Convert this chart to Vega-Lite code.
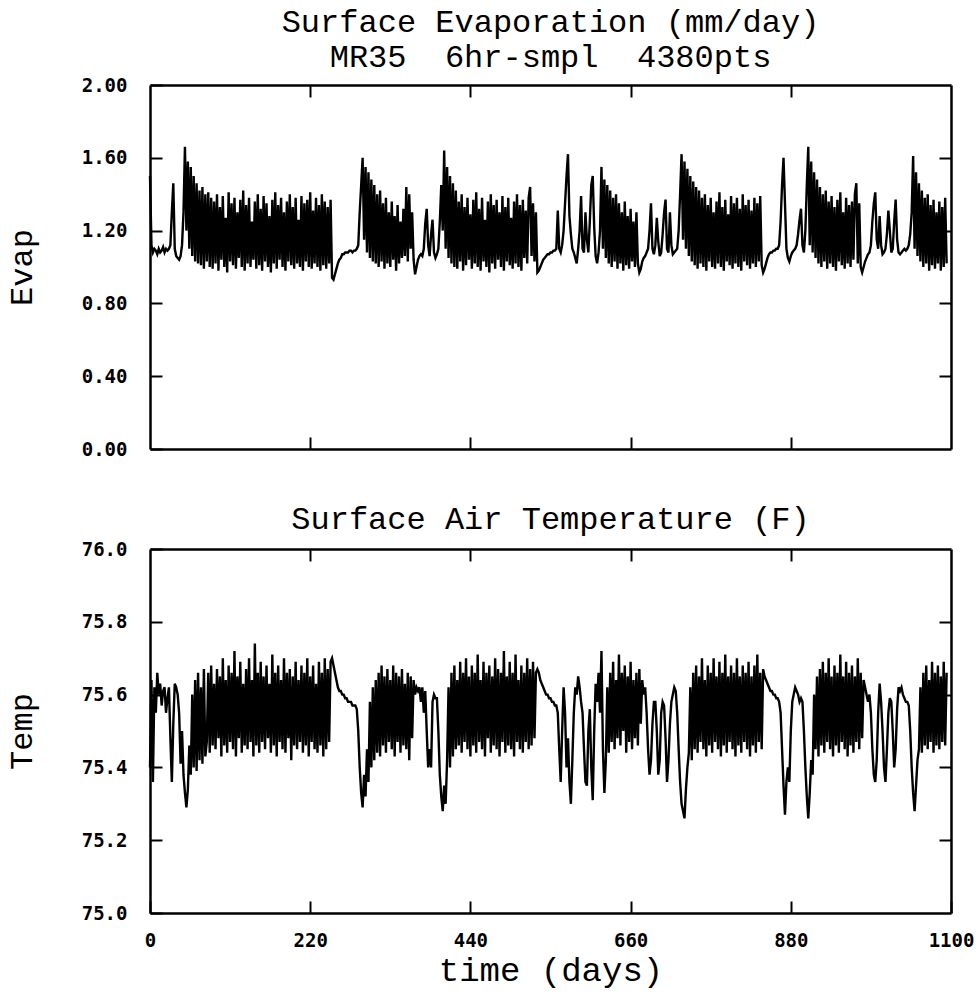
{
"$schema": "https://vega.github.io/schema/vega-lite/v6.json",
"background": "white",
"padding": {"left": 5, "top": 6, "right": 10, "bottom": 2},
"config": {
  "view": {"stroke": null},
  "axis": {"domainColor": "black", "domainWidth": 2.5, "tickColor": "black", "tickWidth": 2, "tickSize": -12, "labelFont": "DejaVu Sans Mono", "labelFontWeight": "bold", "labelFontSize": 19, "labelColor": "black", "labelPadding": 35, "titleFont": "Liberation Mono", "titleFontSize": 32, "titleFontWeight": "normal", "titleColor": "black", "grid": false, "labelFlush": false},
  "title": {"font": "Liberation Mono", "fontSize": 32, "fontWeight": "normal", "color": "black", "anchor": "middle"}
},
"data": {"values": [
{"t":0,"evap":1.50,"temp":75.40},{"t":2,"evap":1.12,"temp":75.64},{"t":4,"evap":1.08,"temp":75.36},{"t":6,"evap":1.10,"temp":75.62},{"t":8,"evap":1.09,"temp":75.55},{"t":10,"evap":1.07,"temp":75.66},{"t":12,"evap":1.10,"temp":75.60},{"t":14,"evap":1.08,"temp":75.63},{"t":16,"evap":1.09,"temp":75.57},{"t":18,"evap":1.11,"temp":75.61},{"t":20,"evap":1.08,"temp":75.62},{"t":22,"evap":1.10,"temp":75.55},{"t":24,"evap":1.09,"temp":75.59},{"t":26,"evap":1.10,"temp":75.62},{"t":28,"evap":1.12,"temp":75.48},{"t":30,"evap":1.30,"temp":75.36},{"t":32,"evap":1.46,"temp":75.52},{"t":34,"evap":1.10,"temp":75.63},{"t":36,"evap":1.06,"temp":75.62},{"t":38,"evap":1.05,"temp":75.60},{"t":40,"evap":1.04,"temp":75.55},{"t":42,"evap":1.06,"temp":75.41},{"t":44,"evap":1.12,"temp":75.50},{"t":46,"evap":1.30,"temp":75.38},{"t":48,"evap":1.66,"temp":75.33},{"t":50,"evap":1.20,"temp":75.29},{"t":52,"evap":1.58,"temp":75.34},{"t":54,"evap":1.10,"temp":75.46},{"t":56,"evap":1.55,"temp":75.38},{"t":58,"evap":1.06,"temp":75.60},{"t":60,"evap":1.50,"temp":75.40},{"t":62,"evap":1.03,"temp":75.64},{"t":64,"evap":1.46,"temp":75.39},{"t":66,"evap":1.02,"temp":75.66},{"t":68,"evap":1.42,"temp":75.42},{"t":70,"evap":1.01,"temp":75.62},{"t":72,"evap":1.44,"temp":75.41},{"t":74,"evap":0.99,"temp":75.67},{"t":76,"evap":1.40,"temp":75.43},{"t":78,"evap":1.03,"temp":75.47},
{"t":80,"evap":1.41,"temp":75.66},{"t":82,"evap":1.00,"temp":75.44},{"t":84,"evap":1.38,"temp":75.68},{"t":86,"evap":0.99,"temp":75.46},{"t":88,"evap":1.36,"temp":75.63},{"t":90,"evap":1.02,"temp":75.45},{"t":92,"evap":1.40,"temp":75.67},{"t":94,"evap":0.98,"temp":75.48},{"t":96,"evap":1.33,"temp":75.65},{"t":98,"evap":1.04,"temp":75.43},{"t":100,"evap":1.39,"temp":75.70},{"t":102,"evap":1.00,"temp":75.46},{"t":104,"evap":1.27,"temp":75.64},{"t":106,"evap":0.97,"temp":75.44},{"t":108,"evap":1.41,"temp":75.68},{"t":110,"evap":1.03,"temp":75.47},{"t":112,"evap":1.35,"temp":75.66},{"t":114,"evap":1.01,"temp":75.45},{"t":116,"evap":1.38,"temp":75.72},{"t":118,"evap":0.99,"temp":75.43},{"t":120,"evap":1.30,"temp":75.65},{"t":122,"evap":1.05,"temp":75.48},{"t":124,"evap":1.37,"temp":75.69},{"t":126,"evap":1.00,"temp":75.44},{"t":128,"evap":1.42,"temp":75.63},{"t":130,"evap":0.98,"temp":75.46},{"t":132,"evap":1.34,"temp":75.67},{"t":134,"evap":1.02,"temp":75.45},{"t":136,"evap":1.38,"temp":75.70},{"t":138,"evap":1.00,"temp":75.47},{"t":140,"evap":1.25,"temp":75.64},{"t":142,"evap":1.04,"temp":75.43},{"t":144,"evap":1.36,"temp":75.74},{"t":146,"evap":0.99,"temp":75.46},{"t":148,"evap":1.40,"temp":75.66},{"t":150,"evap":1.01,"temp":75.44},{"t":152,"evap":1.32,"temp":75.69},{"t":154,"evap":0.98,"temp":75.47},{"t":156,"evap":1.39,"temp":75.65},{"t":158,"evap":1.03,"temp":75.45},
{"t":160,"evap":1.35,"temp":75.68},{"t":162,"evap":1.00,"temp":75.48},{"t":164,"evap":1.28,"temp":75.63},{"t":166,"evap":0.97,"temp":75.44},{"t":168,"evap":1.37,"temp":75.71},{"t":170,"evap":1.02,"temp":75.46},{"t":172,"evap":1.41,"temp":75.66},{"t":174,"evap":0.99,"temp":75.43},{"t":176,"evap":1.34,"temp":75.68},{"t":178,"evap":1.04,"temp":75.47},{"t":180,"evap":1.38,"temp":75.64},{"t":182,"evap":1.00,"temp":75.45},{"t":184,"evap":1.30,"temp":75.70},{"t":186,"evap":0.98,"temp":75.44},{"t":188,"evap":1.36,"temp":75.66},{"t":190,"evap":1.03,"temp":75.48},{"t":192,"evap":1.40,"temp":75.67},{"t":194,"evap":1.01,"temp":75.42},{"t":196,"evap":1.33,"temp":75.65},{"t":198,"evap":0.99,"temp":75.46},{"t":200,"evap":1.38,"temp":75.69},{"t":202,"evap":1.02,"temp":75.45},{"t":204,"evap":1.26,"temp":75.64},{"t":206,"evap":1.00,"temp":75.47},{"t":208,"evap":1.39,"temp":75.68},{"t":210,"evap":0.98,"temp":75.44},{"t":212,"evap":1.35,"temp":75.66},{"t":214,"evap":1.03,"temp":75.46},{"t":216,"evap":1.37,"temp":75.70},{"t":218,"evap":1.00,"temp":75.43},{"t":220,"evap":1.41,"temp":75.65},{"t":222,"evap":0.99,"temp":75.47},{"t":224,"evap":1.31,"temp":75.68},{"t":226,"evap":1.02,"temp":75.45},{"t":228,"evap":1.38,"temp":75.63},{"t":230,"evap":1.00,"temp":75.44},{"t":232,"evap":1.34,"temp":75.69},{"t":234,"evap":0.98,"temp":75.46},{"t":236,"evap":1.40,"temp":75.66},{"t":238,"evap":1.01,"temp":75.43},
{"t":240,"evap":1.36,"temp":75.70},{"t":242,"evap":0.99,"temp":75.45},{"t":244,"evap":1.33,"temp":75.67},{"t":246,"evap":1.02,"temp":75.47},{"t":248,"evap":1.37,"temp":75.69},{"t":250,"evap":0.94,"temp":75.70},{"t":252,"evap":0.93,"temp":75.68},{"t":254,"evap":0.96,"temp":75.66},{"t":256,"evap":0.99,"temp":75.64},{"t":258,"evap":1.02,"temp":75.62},{"t":260,"evap":1.04,"temp":75.61},{"t":262,"evap":1.05,"temp":75.61},{"t":264,"evap":1.07,"temp":75.60},{"t":266,"evap":1.07,"temp":75.60},{"t":268,"evap":1.08,"temp":75.59},{"t":270,"evap":1.08,"temp":75.59},{"t":272,"evap":1.08,"temp":75.58},{"t":274,"evap":1.09,"temp":75.58},{"t":276,"evap":1.09,"temp":75.58},{"t":278,"evap":1.08,"temp":75.57},{"t":280,"evap":1.09,"temp":75.57},{"t":282,"evap":1.09,"temp":75.57},{"t":284,"evap":1.10,"temp":75.56},{"t":286,"evap":1.12,"temp":75.50},{"t":288,"evap":1.30,"temp":75.40},{"t":290,"evap":1.45,"temp":75.33},{"t":292,"evap":1.60,"temp":75.29},{"t":294,"evap":1.15,"temp":75.38},{"t":296,"evap":1.55,"temp":75.32},{"t":298,"evap":1.08,"temp":75.45},{"t":300,"evap":1.52,"temp":75.36},{"t":302,"evap":1.05,"temp":75.58},{"t":304,"evap":1.48,"temp":75.40},{"t":306,"evap":1.03,"temp":75.62},{"t":308,"evap":1.45,"temp":75.42},{"t":310,"evap":1.02,"temp":75.64},{"t":312,"evap":1.40,"temp":75.44},{"t":314,"evap":1.00,"temp":75.66},{"t":316,"evap":1.42,"temp":75.43},{"t":318,"evap":1.03,"temp":75.68},
{"t":320,"evap":1.35,"temp":75.46},{"t":322,"evap":0.99,"temp":75.65},{"t":324,"evap":1.38,"temp":75.44},{"t":326,"evap":1.02,"temp":75.67},{"t":328,"evap":1.30,"temp":75.47},{"t":330,"evap":1.00,"temp":75.64},{"t":332,"evap":1.36,"temp":75.45},{"t":334,"evap":1.04,"temp":75.68},{"t":336,"evap":1.28,"temp":75.43},{"t":338,"evap":0.98,"temp":75.66},{"t":340,"evap":1.34,"temp":75.47},{"t":342,"evap":1.02,"temp":75.65},{"t":344,"evap":1.25,"temp":75.44},{"t":346,"evap":1.05,"temp":75.67},{"t":348,"evap":1.32,"temp":75.46},{"t":350,"evap":1.06,"temp":75.63},{"t":352,"evap":1.44,"temp":75.45},{"t":354,"evap":1.03,"temp":75.66},{"t":356,"evap":1.40,"temp":75.42},{"t":358,"evap":1.10,"temp":75.65},{"t":360,"evap":1.30,"temp":75.48},{"t":362,"evap":1.04,"temp":75.64},{"t":364,"evap":0.96,"temp":75.60},{"t":366,"evap":1.00,"temp":75.62},{"t":368,"evap":1.04,"temp":75.61},{"t":370,"evap":1.06,"temp":75.62},{"t":372,"evap":1.07,"temp":75.58},{"t":374,"evap":1.06,"temp":75.62},{"t":376,"evap":1.10,"temp":75.55},{"t":378,"evap":1.24,"temp":75.61},{"t":380,"evap":1.32,"temp":75.50},{"t":382,"evap":1.12,"temp":75.40},{"t":384,"evap":1.06,"temp":75.45},{"t":386,"evap":1.18,"temp":75.40},{"t":388,"evap":1.26,"temp":75.58},{"t":390,"evap":1.08,"temp":75.60},{"t":392,"evap":1.05,"temp":75.59},{"t":394,"evap":1.07,"temp":75.59},{"t":396,"evap":1.10,"temp":75.50},{"t":398,"evap":1.25,"temp":75.38},
{"t":400,"evap":1.45,"temp":75.32},{"t":402,"evap":1.20,"temp":75.28},{"t":404,"evap":1.64,"temp":75.35},{"t":406,"evap":1.10,"temp":75.30},{"t":408,"evap":1.55,"temp":75.42},{"t":410,"evap":1.05,"temp":75.62},{"t":412,"evap":1.50,"temp":75.40},{"t":414,"evap":1.02,"temp":75.66},{"t":416,"evap":1.46,"temp":75.43},{"t":418,"evap":1.00,"temp":75.68},{"t":420,"evap":1.42,"temp":75.45},{"t":422,"evap":0.99,"temp":75.64},{"t":424,"evap":1.36,"temp":75.46},{"t":426,"evap":1.03,"temp":75.69},{"t":428,"evap":1.40,"temp":75.44},{"t":430,"evap":0.98,"temp":75.66},{"t":432,"evap":1.33,"temp":75.47},{"t":434,"evap":1.01,"temp":75.70},{"t":436,"evap":1.38,"temp":75.45},{"t":438,"evap":1.04,"temp":75.65},{"t":440,"evap":1.29,"temp":75.43},{"t":442,"evap":0.99,"temp":75.68},{"t":444,"evap":1.37,"temp":75.46},{"t":446,"evap":1.02,"temp":75.66},{"t":448,"evap":1.41,"temp":75.44},{"t":450,"evap":1.00,"temp":75.71},{"t":452,"evap":1.32,"temp":75.47},{"t":454,"evap":0.98,"temp":75.64},{"t":456,"evap":1.38,"temp":75.45},{"t":458,"evap":1.03,"temp":75.69},{"t":460,"evap":1.26,"temp":75.43},{"t":462,"evap":1.00,"temp":75.66},{"t":464,"evap":1.36,"temp":75.48},{"t":466,"evap":0.97,"temp":75.68},{"t":468,"evap":1.40,"temp":75.44},{"t":470,"evap":1.02,"temp":75.65},{"t":472,"evap":1.34,"temp":75.46},{"t":474,"evap":0.99,"temp":75.70},{"t":476,"evap":1.37,"temp":75.45},{"t":478,"evap":1.04,"temp":75.67},
{"t":480,"evap":1.30,"temp":75.43},{"t":482,"evap":1.00,"temp":75.66},{"t":484,"evap":1.39,"temp":75.47},{"t":486,"evap":0.98,"temp":75.72},{"t":488,"evap":1.33,"temp":75.44},{"t":490,"evap":1.03,"temp":75.65},{"t":492,"evap":1.38,"temp":75.46},{"t":494,"evap":1.01,"temp":75.69},{"t":496,"evap":1.27,"temp":75.45},{"t":498,"evap":0.99,"temp":75.66},{"t":500,"evap":1.36,"temp":75.43},{"t":502,"evap":1.02,"temp":75.71},{"t":504,"evap":1.40,"temp":75.47},{"t":506,"evap":1.00,"temp":75.64},{"t":508,"evap":1.34,"temp":75.45},{"t":510,"evap":0.98,"temp":75.68},{"t":512,"evap":1.37,"temp":75.44},{"t":514,"evap":1.05,"temp":75.66},{"t":516,"evap":1.31,"temp":75.47},{"t":518,"evap":1.02,"temp":75.70},{"t":520,"evap":1.38,"temp":75.45},{"t":522,"evap":1.44,"temp":75.67},{"t":524,"evap":1.06,"temp":75.46},{"t":526,"evap":1.35,"temp":75.69},{"t":528,"evap":1.03,"temp":75.48},{"t":530,"evap":1.30,"temp":75.66},{"t":532,"evap":0.97,"temp":75.67},{"t":534,"evap":0.98,"temp":75.66},{"t":536,"evap":1.00,"temp":75.64},{"t":538,"evap":1.02,"temp":75.63},{"t":540,"evap":1.04,"temp":75.62},{"t":542,"evap":1.05,"temp":75.61},{"t":544,"evap":1.06,"temp":75.60},{"t":546,"evap":1.07,"temp":75.60},{"t":548,"evap":1.07,"temp":75.59},{"t":550,"evap":1.08,"temp":75.59},{"t":552,"evap":1.08,"temp":75.58},{"t":554,"evap":1.09,"temp":75.58},{"t":556,"evap":1.09,"temp":75.57},{"t":558,"evap":1.10,"temp":75.57},
{"t":560,"evap":1.31,"temp":75.55},{"t":562,"evap":1.10,"temp":75.45},{"t":564,"evap":1.08,"temp":75.36},{"t":566,"evap":1.12,"temp":75.50},{"t":568,"evap":1.20,"temp":75.62},{"t":570,"evap":1.35,"temp":75.55},{"t":572,"evap":1.50,"temp":75.40},{"t":574,"evap":1.62,"temp":75.48},{"t":576,"evap":1.28,"temp":75.36},{"t":578,"evap":1.18,"temp":75.30},{"t":580,"evap":1.10,"temp":75.42},{"t":582,"evap":1.08,"temp":75.55},{"t":584,"evap":1.05,"temp":75.62},{"t":586,"evap":1.02,"temp":75.60},{"t":588,"evap":1.10,"temp":75.65},{"t":590,"evap":1.20,"temp":75.62},{"t":592,"evap":1.39,"temp":75.58},{"t":594,"evap":1.10,"temp":75.55},{"t":596,"evap":1.08,"temp":75.45},{"t":598,"evap":1.30,"temp":75.36},{"t":600,"evap":1.15,"temp":75.35},{"t":602,"evap":1.08,"temp":75.50},{"t":604,"evap":1.25,"temp":75.56},{"t":606,"evap":1.45,"temp":75.40},{"t":608,"evap":1.50,"temp":75.31},{"t":610,"evap":1.22,"temp":75.50},{"t":612,"evap":1.06,"temp":75.63},{"t":614,"evap":1.02,"temp":75.58},{"t":616,"evap":1.08,"temp":75.66},{"t":618,"evap":1.20,"temp":75.55},{"t":620,"evap":1.55,"temp":75.72},{"t":622,"evap":1.10,"temp":75.45},{"t":624,"evap":1.48,"temp":75.33},{"t":626,"evap":1.05,"temp":75.42},{"t":628,"evap":1.45,"temp":75.62},{"t":630,"evap":1.02,"temp":75.44},{"t":632,"evap":1.42,"temp":75.66},{"t":634,"evap":1.00,"temp":75.47},{"t":636,"evap":1.38,"temp":75.69},{"t":638,"evap":1.03,"temp":75.45},
{"t":640,"evap":1.40,"temp":75.64},{"t":642,"evap":0.99,"temp":75.48},{"t":644,"evap":1.35,"temp":75.71},{"t":646,"evap":1.02,"temp":75.46},{"t":648,"evap":1.30,"temp":75.66},{"t":650,"evap":0.98,"temp":75.50},{"t":652,"evap":1.36,"temp":75.68},{"t":654,"evap":1.01,"temp":75.44},{"t":656,"evap":1.28,"temp":75.65},{"t":658,"evap":0.99,"temp":75.47},{"t":660,"evap":1.32,"temp":75.69},{"t":662,"evap":1.03,"temp":75.45},{"t":664,"evap":1.25,"temp":75.64},{"t":666,"evap":1.00,"temp":75.48},{"t":668,"evap":1.30,"temp":75.66},{"t":670,"evap":1.02,"temp":75.46},{"t":672,"evap":0.97,"temp":75.67},{"t":674,"evap":0.99,"temp":75.52},{"t":676,"evap":1.03,"temp":75.64},{"t":678,"evap":1.05,"temp":75.60},{"t":680,"evap":1.06,"temp":75.62},{"t":682,"evap":1.08,"temp":75.55},{"t":684,"evap":1.10,"temp":75.45},{"t":686,"evap":1.20,"temp":75.38},{"t":688,"evap":1.35,"temp":75.42},{"t":690,"evap":1.10,"temp":75.52},{"t":692,"evap":1.07,"temp":75.58},{"t":694,"evap":1.12,"temp":75.58},{"t":696,"evap":1.27,"temp":75.50},{"t":698,"evap":1.14,"temp":75.38},{"t":700,"evap":1.06,"temp":75.42},{"t":702,"evap":1.08,"temp":75.55},{"t":704,"evap":1.18,"temp":75.58},{"t":706,"evap":1.30,"temp":75.57},{"t":708,"evap":1.37,"temp":75.48},{"t":710,"evap":1.10,"temp":75.36},{"t":712,"evap":1.08,"temp":75.42},{"t":714,"evap":1.30,"temp":75.52},{"t":716,"evap":1.12,"temp":75.58},{"t":718,"evap":1.07,"temp":75.60},
{"t":720,"evap":1.08,"temp":75.62},{"t":722,"evap":1.09,"temp":75.61},{"t":724,"evap":1.10,"temp":75.55},{"t":726,"evap":1.20,"temp":75.45},{"t":728,"evap":1.40,"temp":75.36},{"t":730,"evap":1.62,"temp":75.30},{"t":732,"evap":1.15,"temp":75.28},{"t":734,"evap":1.58,"temp":75.26},{"t":736,"evap":1.10,"temp":75.34},{"t":738,"evap":1.54,"temp":75.40},{"t":740,"evap":1.06,"temp":75.44},{"t":742,"evap":1.50,"temp":75.62},{"t":744,"evap":1.03,"temp":75.42},{"t":746,"evap":1.47,"temp":75.66},{"t":748,"evap":1.01,"temp":75.45},{"t":750,"evap":1.44,"temp":75.68},{"t":752,"evap":0.99,"temp":75.44},{"t":754,"evap":1.42,"temp":75.65},{"t":756,"evap":1.02,"temp":75.47},{"t":758,"evap":1.38,"temp":75.70},{"t":760,"evap":1.00,"temp":75.45},{"t":762,"evap":1.40,"temp":75.64},{"t":764,"evap":0.98,"temp":75.43},{"t":766,"evap":1.34,"temp":75.68},{"t":768,"evap":1.03,"temp":75.46},{"t":770,"evap":1.38,"temp":75.66},{"t":772,"evap":1.00,"temp":75.44},{"t":774,"evap":1.30,"temp":75.70},{"t":776,"evap":0.99,"temp":75.47},{"t":778,"evap":1.36,"temp":75.65},{"t":780,"evap":1.02,"temp":75.45},{"t":782,"evap":1.41,"temp":75.69},{"t":784,"evap":1.00,"temp":75.43},{"t":786,"evap":1.33,"temp":75.66},{"t":788,"evap":0.98,"temp":75.46},{"t":790,"evap":1.37,"temp":75.71},{"t":792,"evap":1.03,"temp":75.44},{"t":794,"evap":1.29,"temp":75.65},{"t":796,"evap":1.01,"temp":75.47},{"t":798,"evap":1.39,"temp":75.68},
{"t":800,"evap":0.99,"temp":75.45},{"t":802,"evap":1.35,"temp":75.66},{"t":804,"evap":1.02,"temp":75.43},{"t":806,"evap":1.38,"temp":75.70},{"t":808,"evap":1.00,"temp":75.46},{"t":810,"evap":1.32,"temp":75.65},{"t":812,"evap":0.98,"temp":75.44},{"t":814,"evap":1.40,"temp":75.68},{"t":816,"evap":1.03,"temp":75.47},{"t":818,"evap":1.34,"temp":75.66},{"t":820,"evap":1.01,"temp":75.45},{"t":822,"evap":1.37,"temp":75.69},{"t":824,"evap":0.99,"temp":75.43},{"t":826,"evap":1.31,"temp":75.65},{"t":828,"evap":1.02,"temp":75.46},{"t":830,"evap":1.38,"temp":75.68},{"t":832,"evap":1.00,"temp":75.44},{"t":834,"evap":1.35,"temp":75.71},{"t":836,"evap":1.03,"temp":75.47},{"t":838,"evap":1.39,"temp":75.66},{"t":840,"evap":1.01,"temp":75.45},{"t":842,"evap":0.97,"temp":75.67},{"t":844,"evap":0.99,"temp":75.65},{"t":846,"evap":1.02,"temp":75.64},{"t":848,"evap":1.05,"temp":75.63},{"t":850,"evap":1.07,"temp":75.62},{"t":852,"evap":1.08,"temp":75.61},{"t":854,"evap":1.08,"temp":75.61},{"t":856,"evap":1.09,"temp":75.60},{"t":858,"evap":1.09,"temp":75.60},{"t":860,"evap":1.10,"temp":75.59},{"t":862,"evap":1.10,"temp":75.59},{"t":864,"evap":1.12,"temp":75.58},{"t":866,"evap":1.25,"temp":75.55},{"t":868,"evap":1.45,"temp":75.45},{"t":870,"evap":1.60,"temp":75.35},{"t":872,"evap":1.35,"temp":75.27},{"t":874,"evap":1.10,"temp":75.36},{"t":876,"evap":1.05,"temp":75.40},{"t":878,"evap":1.03,"temp":75.36},
{"t":880,"evap":1.06,"temp":75.50},{"t":882,"evap":1.08,"temp":75.58},{"t":884,"evap":1.09,"temp":75.60},{"t":886,"evap":1.10,"temp":75.62},{"t":888,"evap":1.12,"temp":75.61},{"t":890,"evap":1.18,"temp":75.60},{"t":892,"evap":1.26,"temp":75.58},{"t":894,"evap":1.32,"temp":75.59},{"t":896,"evap":1.12,"temp":75.58},{"t":898,"evap":1.08,"temp":75.50},{"t":900,"evap":1.20,"temp":75.40},{"t":902,"evap":1.45,"temp":75.32},{"t":904,"evap":1.66,"temp":75.26},{"t":906,"evap":1.12,"temp":75.33},{"t":908,"evap":1.58,"temp":75.42},{"t":910,"evap":1.08,"temp":75.38},{"t":912,"evap":1.52,"temp":75.60},{"t":914,"evap":1.05,"temp":75.45},{"t":916,"evap":1.48,"temp":75.65},{"t":918,"evap":1.02,"temp":75.43},{"t":920,"evap":1.44,"temp":75.67},{"t":922,"evap":1.00,"temp":75.46},{"t":924,"evap":1.40,"temp":75.69},{"t":926,"evap":1.03,"temp":75.44},{"t":928,"evap":1.42,"temp":75.66},{"t":930,"evap":0.99,"temp":75.47},{"t":932,"evap":1.36,"temp":75.70},{"t":934,"evap":1.02,"temp":75.45},{"t":936,"evap":1.39,"temp":75.65},{"t":938,"evap":1.00,"temp":75.43},{"t":940,"evap":1.33,"temp":75.68},{"t":942,"evap":0.98,"temp":75.46},{"t":944,"evap":1.37,"temp":75.66},{"t":946,"evap":1.03,"temp":75.44},{"t":948,"evap":1.41,"temp":75.71},{"t":950,"evap":1.01,"temp":75.47},{"t":952,"evap":1.30,"temp":75.65},{"t":954,"evap":0.99,"temp":75.45},{"t":956,"evap":1.38,"temp":75.69},{"t":958,"evap":1.02,"temp":75.43},
{"t":960,"evap":1.34,"temp":75.66},{"t":962,"evap":1.00,"temp":75.46},{"t":964,"evap":1.36,"temp":75.68},{"t":966,"evap":1.04,"temp":75.44},{"t":968,"evap":1.40,"temp":75.65},{"t":970,"evap":1.46,"temp":75.47},{"t":972,"evap":1.02,"temp":75.70},{"t":974,"evap":1.35,"temp":75.45},{"t":976,"evap":1.00,"temp":75.66},{"t":978,"evap":0.97,"temp":75.48},{"t":980,"evap":1.00,"temp":75.64},{"t":982,"evap":1.03,"temp":75.62},{"t":984,"evap":1.05,"temp":75.60},{"t":986,"evap":1.07,"temp":75.58},{"t":988,"evap":1.08,"temp":75.60},{"t":990,"evap":1.12,"temp":75.55},{"t":992,"evap":1.25,"temp":75.45},{"t":994,"evap":1.35,"temp":75.38},{"t":996,"evap":1.41,"temp":75.36},{"t":998,"evap":1.15,"temp":75.42},{"t":1000,"evap":1.10,"temp":75.55},{"t":1002,"evap":1.28,"temp":75.63},{"t":1004,"evap":1.12,"temp":75.58},{"t":1006,"evap":1.07,"temp":75.50},{"t":1008,"evap":1.08,"temp":75.40},{"t":1010,"evap":1.10,"temp":75.36},{"t":1012,"evap":1.18,"temp":75.45},{"t":1014,"evap":1.31,"temp":75.55},{"t":1016,"evap":1.20,"temp":75.59},{"t":1018,"evap":1.08,"temp":75.58},{"t":1020,"evap":1.10,"temp":75.50},{"t":1022,"evap":1.25,"temp":75.40},{"t":1024,"evap":1.37,"temp":75.45},{"t":1026,"evap":1.15,"temp":75.56},{"t":1028,"evap":1.08,"temp":75.62},{"t":1030,"evap":1.07,"temp":75.61},{"t":1032,"evap":1.08,"temp":75.62},{"t":1034,"evap":1.09,"temp":75.60},{"t":1036,"evap":1.10,"temp":75.59},{"t":1038,"evap":1.09,"temp":75.58},
{"t":1040,"evap":1.10,"temp":75.58},{"t":1042,"evap":1.12,"temp":75.57},{"t":1044,"evap":1.18,"temp":75.50},{"t":1046,"evap":1.30,"temp":75.40},{"t":1048,"evap":1.61,"temp":75.33},{"t":1050,"evap":1.10,"temp":75.28},{"t":1052,"evap":1.52,"temp":75.35},{"t":1054,"evap":1.06,"temp":75.42},{"t":1056,"evap":1.46,"temp":75.45},{"t":1058,"evap":1.03,"temp":75.62},{"t":1060,"evap":1.42,"temp":75.44},{"t":1062,"evap":1.00,"temp":75.66},{"t":1064,"evap":1.38,"temp":75.46},{"t":1066,"evap":1.02,"temp":75.68},{"t":1068,"evap":1.40,"temp":75.45},{"t":1070,"evap":0.98,"temp":75.64},{"t":1072,"evap":1.34,"temp":75.47},{"t":1074,"evap":1.01,"temp":75.69},{"t":1076,"evap":1.37,"temp":75.44},{"t":1078,"evap":0.99,"temp":75.66},{"t":1080,"evap":1.30,"temp":75.46},{"t":1082,"evap":1.02,"temp":75.68},{"t":1084,"evap":1.36,"temp":75.45},{"t":1086,"evap":0.98,"temp":75.65},{"t":1088,"evap":1.33,"temp":75.47},{"t":1090,"evap":1.00,"temp":75.69},{"t":1092,"evap":1.38,"temp":75.46},{"t":1094,"evap":1.02,"temp":75.66}
]},
"spacing": 44,
"vconcat": [
  {
    "width": 801, "height": 364,
    "title": {"text": ["Surface Evaporation (mm/day)", "MR35\u00a0\u00a06hr-smpl\u00a0\u00a04380pts"], "lineHeight": 35, "offset": 2},
    "layer": [
      {"mark": {"type": "line", "color": "black", "strokeWidth": 2.4},
       "encoding": {
         "x": {"field": "t", "type": "quantitative", "scale": {"domain": [0, 1100], "nice": false}, "axis": {"orient": "bottom", "values": [220, 440, 660, 880], "labels": false, "title": null}},
         "y": {"field": "evap", "type": "quantitative", "scale": {"domain": [0, 2], "nice": false, "zero": false}, "axis": {"orient": "left", "values": [0, 0.4, 0.8, 1.2, 1.6, 2], "format": ".2f", "title": "Evap", "titleAngle": -90, "titleX": -119, "titleY": 182, "titleBaseline": "alphabetic", "titleAlign": "center"}}
       }},
      {"mark": {"type": "line", "opacity": 0},
       "encoding": {
         "x": {"field": "t", "type": "quantitative", "axis": {"orient": "top", "values": [220, 440, 660, 880], "labels": false, "title": null}},
         "y": {"field": "evap", "type": "quantitative", "axis": {"orient": "right", "values": [0.4, 0.8, 1.2, 1.6], "labels": false, "title": null}}
       }}
    ],
    "resolve": {"axis": {"x": "independent", "y": "independent"}}
  },
  {
    "width": 801, "height": 364,
    "title": {"text": "Surface Air Temperature (F)", "offset": 4},
    "layer": [
      {"mark": {"type": "line", "color": "black", "strokeWidth": 2.4},
       "encoding": {
         "x": {"field": "t", "type": "quantitative", "scale": {"domain": [0, 1100], "nice": false}, "axis": {"orient": "bottom", "values": [0, 220, 440, 660, 880, 1100], "format": "d", "labelPadding": 30, "title": "time (days)", "titleFontSize": 34, "titlePadding": 3}},
         "y": {"field": "temp", "type": "quantitative", "scale": {"domain": [75, 76], "nice": false, "zero": false}, "axis": {"orient": "left", "values": [75, 75.2, 75.4, 75.6, 75.8, 76], "format": ".1f", "title": "Temp", "titleAngle": -90, "titleX": -119, "titleY": 182, "titleBaseline": "alphabetic", "titleAlign": "center"}}
       }},
      {"mark": {"type": "line", "opacity": 0},
       "encoding": {
         "x": {"field": "t", "type": "quantitative", "axis": {"orient": "top", "values": [220, 440, 660, 880], "labels": false, "title": null}},
         "y": {"field": "temp", "type": "quantitative", "axis": {"orient": "right", "values": [75.2, 75.4, 75.6, 75.8], "labels": false, "title": null}}
       }}
    ],
    "resolve": {"axis": {"x": "independent", "y": "independent"}}
  }
]
}
